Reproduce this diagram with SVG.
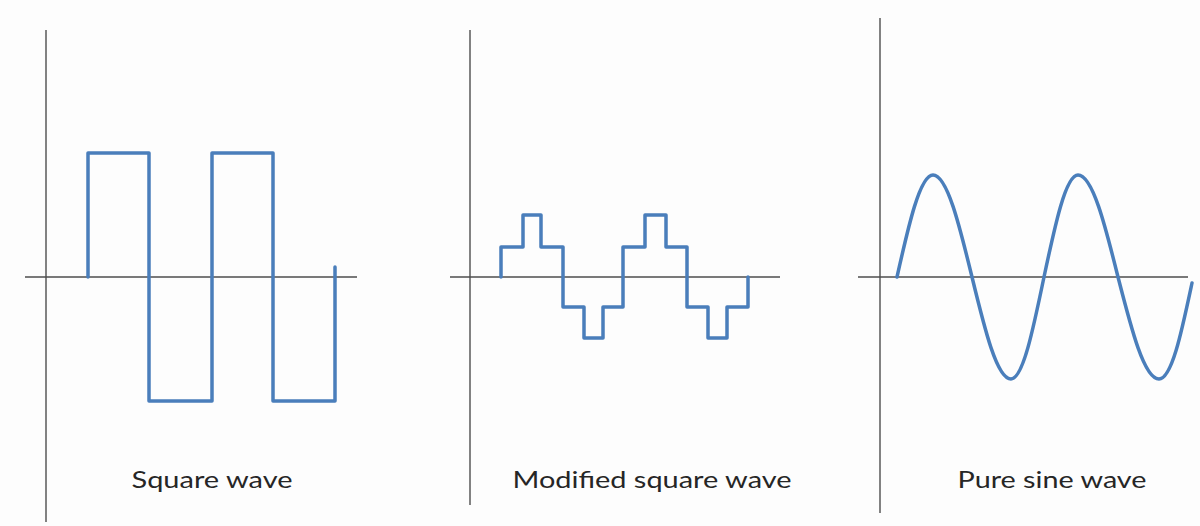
<svg xmlns="http://www.w3.org/2000/svg" width="1200" height="526" viewBox="0 0 1200 526">
<style>
.axis{stroke:#4d4d4d;stroke-width:1.4;fill:none}
.wave{stroke:#4a7ebb;stroke-width:3.5;fill:none;stroke-linejoin:round;stroke-linecap:round}
.lbl{font-family:Lato,"Open Sans","Liberation Sans",sans-serif;font-size:24px;fill:#262626;text-anchor:middle}
</style>
<rect width="1200" height="526" fill="#fdfdfd"/>
<g id="square">
<line class="axis" x1="46" y1="30" x2="46" y2="522"/>
<line class="axis" x1="25" y1="277" x2="357" y2="277"/>
<path class="wave" d="M88,277 V153 H149 V401 H212 V153 H273 V401 H335 V267"/>
<text class="lbl" x="212" y="488" textLength="161" lengthAdjust="spacingAndGlyphs">Square wave</text>
</g>
<g id="modified">
<line class="axis" x1="470" y1="30" x2="470" y2="505"/>
<line class="axis" x1="450" y1="277" x2="780" y2="277"/>
<path class="wave" d="M501,277 V247 H523 V215 H541 V247 H563 V307 H584 V338 H603 V307 H623 V247 H645 V215 H666 V247 H687 V307 H708 V338 H727 V307 H748 V277"/>
<text class="lbl" x="652" y="488" textLength="279" lengthAdjust="spacingAndGlyphs">Modified square wave</text>
</g>
<g id="sine">
<line class="axis" x1="880" y1="18" x2="880" y2="513"/>
<line class="axis" x1="858" y1="277" x2="1188" y2="277"/>
<path class="wave" d="M897,277 C908.7,224.7 920,175 933,175 C947.1,175 959.3,224.7 972,277 C984.7,329.3 996.9,379 1011,379 C1022.9,379 1033.2,329.3 1044,277 C1055.1,224.7 1065.7,175 1078,175 C1092.5,175 1105,224.7 1118,277 C1131.4,329.3 1144.2,379 1159,379 C1172,379 1182,330 1192,283"/>
<text class="lbl" x="1052" y="488" textLength="189" lengthAdjust="spacingAndGlyphs">Pure sine wave</text>
</g>
<g id="connectors"/>
</svg>
